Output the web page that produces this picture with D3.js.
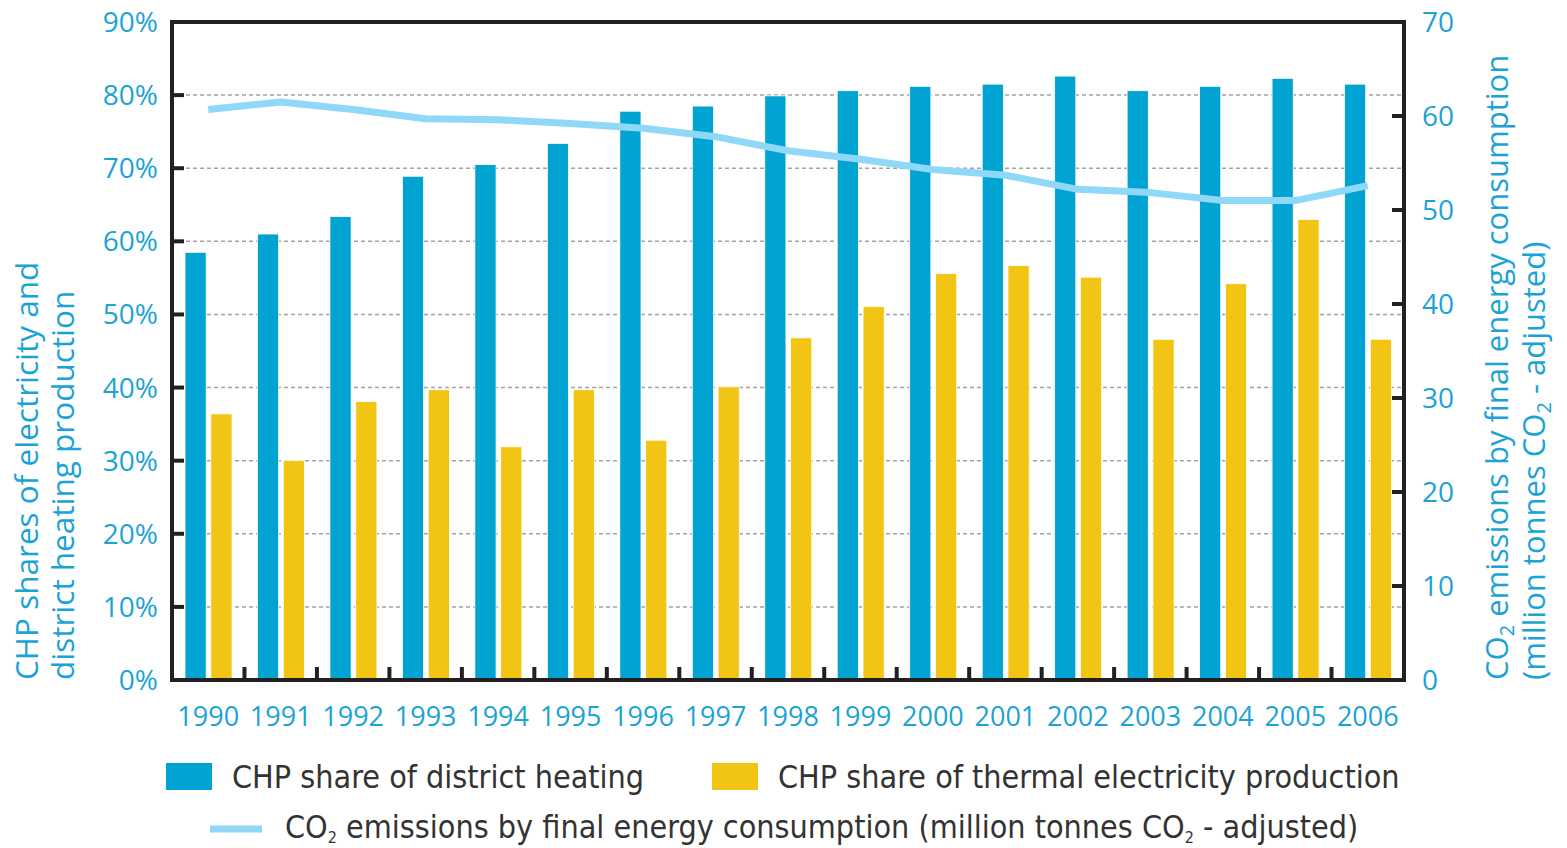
<!DOCTYPE html>
<html>
<head>
<meta charset="utf-8">
<script src="https://cdn.jsdelivr.net/npm/d3@7"></script>
<style>
  body { margin: 0; background: #fff; }
  text { font-family: 'Open Sans', sans-serif; }
</style>
</head>
<body>
<script>
// data
const years = ['1990', '1991', '1992', '1993', '1994', '1995', '1996', '1997', '1998',
  '1999', '2000', '2001', '2002', '2003', '2004', '2005', '2006'];
const districtHeating = [58.5, 61.0, 63.4, 68.9, 70.5, 73.4, 77.8, 78.5, 79.9,
  80.6, 81.2, 81.5, 82.6, 80.6, 81.2, 82.3, 81.5];
const thermalElectricity = [36.4, 30.0, 38.1, 39.7, 31.9, 39.7, 32.8, 40.1, 46.8,
  51.1, 55.6, 56.7, 55.1, 46.6, 54.2, 63.0, 46.6];
const co2Emissions = [60.7, 61.5, 60.7, 59.7, 59.6, 59.2, 58.7, 57.8, 56.3,
  55.4, 54.3, 53.7, 52.2, 51.85, 51.0, 51.0, 52.6];
const leftTicks = [0, 10, 20, 30, 40, 50, 60, 70, 80, 90];
const rightTicks = [0, 10, 20, 30, 40, 50, 60, 70];

const blue = '#00a3d1';
const yellow = '#f2c414';
const lineBlue = '#8fd8f8';
const labelBlue = '#1ba3d6';
const frameColor = '#231f20';
const legendFont = "'DejaVu Sans Condensed', 'DejaVu Sans', sans-serif";

const margin = { top: 22, right: 163, bottom: 168, left: 172 };
const width = 1567 - margin.left - margin.right;
const height = 848 - margin.top - margin.bottom;

const svg = d3.select('body')
  .append('svg')
    .attr('width', 1567)
    .attr('height', 848);

const g = svg.append('g')
  .attr('transform', `translate(${margin.left}, ${margin.top})`);

const x = d3.scaleBand().domain(years).range([0, width]);
const xSeries = d3.scaleBand().domain(['dh', 'te']).range([13, 60]).paddingInner(0.18);
const y = d3.scaleLinear().domain([0, 90]).range([height, 0]);
const y2 = d3.scaleLinear().domain([0, 70]).range([height, 0]);

// grid
g.append('g')
  .selectAll('line')
  .data(leftTicks.filter(d => d > 0 && d < 90))
  .enter()
  .append('line')
    .attr('x1', 0)
    .attr('x2', width)
    .attr('y1', d => y(d))
    .attr('y2', d => y(d))
    .attr('stroke', '#a3a3a3')
    .attr('stroke-width', 1.5)
    .attr('stroke-dasharray', '4,3');

// bars
const groups = g.selectAll('.year')
  .data(years)
  .enter()
  .append('g')
    .attr('class', 'year')
    .attr('transform', d => `translate(${x(d)}, 0)`);

groups.append('rect')
  .attr('x', xSeries('dh'))
  .attr('width', xSeries.bandwidth())
  .attr('y', (d, i) => y(districtHeating[i]))
  .attr('height', (d, i) => height - y(districtHeating[i]))
  .attr('fill', blue)
  .attr('stroke', '#fff')
  .attr('stroke-width', 0.8);

groups.append('rect')
  .attr('x', xSeries('te'))
  .attr('width', xSeries.bandwidth())
  .attr('y', (d, i) => y(thermalElectricity[i]))
  .attr('height', (d, i) => height - y(thermalElectricity[i]))
  .attr('fill', yellow)
  .attr('stroke', '#fff')
  .attr('stroke-width', 0.8);

// co2 line
const line = d3.line()
  .x((d, i) => x(years[i]) + x.bandwidth() / 2)
  .y(d => y2(d));

g.append('path')
  .datum(co2Emissions)
  .attr('d', line)
  .attr('fill', 'none')
  .attr('stroke', lineBlue)
  .attr('stroke-width', 7)
  .attr('stroke-linejoin', 'round');

// frame
g.append('rect')
  .attr('width', width)
  .attr('height', height)
  .attr('fill', 'none')
  .attr('stroke', frameColor)
  .attr('stroke-width', 4);

// ticks inside the frame
g.append('g')
  .selectAll('line')
  .data(leftTicks.filter(d => d > 0 && d < 90))
  .enter()
  .append('line')
    .attr('x1', 0).attr('x2', 12)
    .attr('y1', d => y(d)).attr('y2', d => y(d))
    .attr('stroke', frameColor).attr('stroke-width', 4);

g.append('g')
  .selectAll('line')
  .data(rightTicks.filter(d => d > 0 && d < 70))
  .enter()
  .append('line')
    .attr('x1', width - 12).attr('x2', width)
    .attr('y1', d => y2(d)).attr('y2', d => y2(d))
    .attr('stroke', frameColor).attr('stroke-width', 4);

g.append('g')
  .selectAll('line')
  .data(years.slice(1))
  .enter()
  .append('line')
    .attr('x1', d => x(d)).attr('x2', d => x(d))
    .attr('y1', height - 13).attr('y2', height)
    .attr('stroke', frameColor).attr('stroke-width', 4);

// tick labels
g.append('g')
  .selectAll('text')
  .data(leftTicks)
  .enter()
  .append('text')
    .attr('x', -14)
    .attr('y', d => y(d) + 10)
    .attr('text-anchor', 'end')
    .attr('font-size', 28)
    .attr('fill', labelBlue)
    .text(d => d + '%');

g.append('g')
  .selectAll('text')
  .data(rightTicks)
  .enter()
  .append('text')
    .attr('x', width + 18)
    .attr('y', d => y2(d) + 10)
    .attr('font-size', 28)
    .attr('fill', labelBlue)
    .text(d => d);

g.append('g')
  .selectAll('text')
  .data(years)
  .enter()
  .append('text')
    .attr('x', d => x(d) + x.bandwidth() / 2)
    .attr('y', height + 46)
    .attr('text-anchor', 'middle')
    .attr('font-size', 27)
    .attr('fill', labelBlue)
    .text(d => d);

// writes text pieces, putting "CO" with a subscript 2 between them
const co2Text = (sel, parts, sub) => {
  const shift = sub * 0.3;
  parts.forEach((p, i) => {
    const t = sel.append('tspan').text(p);
    if (i > 0) t.attr('dy', -shift);
    if (i < parts.length - 1) {
      sel.append('tspan').text('CO');
      sel.append('tspan').attr('font-size', sub).attr('dy', shift).text('2');
    }
  });
};

// axis titles
const leftTitle = svg.append('g')
  .attr('transform', `translate(0, ${margin.top + height}) rotate(-90)`);
leftTitle.append('text')
  .attr('x', 0).attr('y', 38)
  .attr('font-size', 31.5).attr('fill', labelBlue)
  .text('CHP shares of electricity and');
leftTitle.append('text')
  .attr('x', 0).attr('y', 74)
  .attr('font-size', 31.5).attr('fill', labelBlue)
  .text('district heating production');

const rightTitle = svg.append('g')
  .attr('transform', `translate(0, ${margin.top + height}) rotate(-90)`);
rightTitle.append('text')
  .attr('x', 0).attr('y', 1508)
  .attr('font-size', 31).attr('fill', labelBlue)
  .call(co2Text, ['', ' emissions by final energy consumption'], 20);
rightTitle.append('text')
  .attr('x', 0).attr('y', 1545)
  .attr('font-size', 31).attr('fill', labelBlue)
  .call(co2Text, ['(million tonnes ', ' - adjusted)'], 20);

// legend
const legend = svg.append('g');

legend.append('rect')
  .attr('x', 166).attr('y', 763).attr('width', 46).attr('height', 27)
  .attr('fill', blue);
legend.append('text')
  .attr('x', 232).attr('y', 788)
  .attr('font-size', 32).attr('fill', '#333')
  .style('font-family', legendFont)
  .text('CHP share of district heating');

legend.append('rect')
  .attr('x', 712).attr('y', 763).attr('width', 46).attr('height', 27)
  .attr('fill', yellow);
legend.append('text')
  .attr('x', 778).attr('y', 788)
  .attr('font-size', 32).attr('fill', '#333')
  .style('font-family', legendFont)
  .text('CHP share of thermal electricity production');

legend.append('line')
  .attr('x1', 210).attr('x2', 262).attr('y1', 829).attr('y2', 829)
  .attr('stroke', lineBlue).attr('stroke-width', 7);
legend.append('text')
  .attr('x', 285).attr('y', 838)
  .attr('font-size', 32).attr('fill', '#333')
  .style('font-family', legendFont)
  .call(co2Text, ['', ' emissions by final energy consumption (million tonnes ', ' - adjusted)'], 16);
</script>
</body>
</html>
